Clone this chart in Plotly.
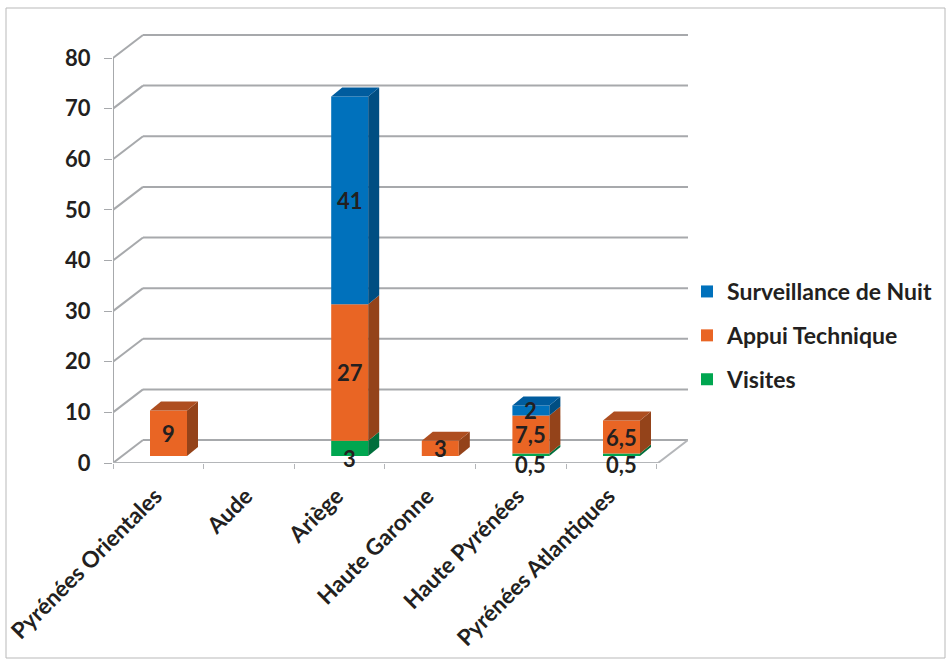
import plotly.graph_objects as go

categories = ["Pyrénées Orientales", "Aude", "Ariège", "Haute Garonne", "Haute Pyrénées", "Pyrénées Atlantiques"]
visites = [0, 0, 3, 0, 0.5, 0.5]
appui = [9, 0, 27, 3, 7.5, 6.5]
surveillance = [0, 0, 41, 0, 2, 0]
y_ticks = [0, 10, 20, 30, 40, 50, 60, 70, 80]

W, H = 947, 660
PL, PR, PT, PB = 113, 688, 25, 463          # plot rectangle in pixels
PX_CAT, PX_UNIT = 90.6, 5.0625              # pixels per category / per value unit
X0 = 168.5                                  # pixel centre of first bar
XMIN = (PL - X0) / PX_CAT
XMAX = (PR - X0) / PX_CAT
YMAX = (PB - PT) / PX_UNIT
DX, DY = 30 / PX_CAT, 23 / PX_UNIT          # floor depth
BW = 37 / PX_CAT                            # bar width
BDX, BDY = 11 / PX_CAT, 9 / PX_UNIT         # bar depth
FLOOR = 7 / PX_UNIT                         # bar base above the front axis
GRID = "#A7A9AC"
INK = "#231F20"
FONT = "Lato"

series = [
    ("Visites", visites, "#00A650", "#006F3C", "#00753F", 10, 3),
    ("Appui Technique", appui, "#E96524", "#94431A", "#AE4E20", 0, 2),
    ("Surveillance de Nuit", surveillance, "#0071BC", "#004E82", "#005C9E", 0, 1),
]

x_idx = list(range(len(categories)))
fig = go.Figure()
shapes = []
annotations = []


def line(x0, y0, x1, y1, color=GRID, width=2):
    shapes.append(dict(type="line", x0=x0, y0=y0, x1=x1, y1=y1, xref="x", yref="y",
                       layer="below", line=dict(color=color, width=width)))


for t in y_ticks:
    line(XMIN, t, XMIN + DX, t + DY)
    line(XMIN + DX, t + DY, XMAX, t + DY)
line(XMIN, 0, XMIN, y_ticks[-1])
line(XMIN, 0, XMAX - DX, 0, "#B4B6B9")
line(XMAX - DX, 0, XMAX, DY, "#B4B6B9")

# outer frame
fx = lambda p: (p - PL) / (PR - PL)
fy = lambda p: (PB - p) / (PB - PT)
shapes.append(dict(type="rect", xref="paper", yref="paper", x0=fx(6), x1=fx(945), y0=fy(658), y1=fy(8),
                   layer="below", line=dict(color="#B9B9B9", width=1)))

cum = [FLOOR] * len(categories)
for name, vals, col, side, top, shift, rank in series:
    base = list(cum)
    fig.add_trace(go.Bar(x=x_idx, y=vals, base=base, width=BW, name=name, marker=dict(color=col, line=dict(width=0)),
                         legendgroup=name, legendrank=rank, hoverinfo="skip"))
    for i, v in enumerate(vals):
        if v == 0:
            continue
        xr = i + BW / 2
        xl = i - BW / 2
        b, t = base[i], base[i] + v
        fig.add_trace(go.Scatter(x=[xr, xr + BDX, xr + BDX, xr, xr], y=[b, b + BDY, t + BDY, t, b], mode="lines",
                                 fill="toself", fillcolor=side, line=dict(width=0), showlegend=False,
                                 hoverinfo="skip"))
        if abs(sum(s[1][i] for s in series) - (t - FLOOR)) < 1e-9:
            fig.add_trace(go.Scatter(x=[xl, xr, xr + BDX, xl + BDX, xl], y=[t, t, t + BDY, t + BDY, t], mode="lines",
                                     fill="toself", fillcolor=top, line=dict(width=0), showlegend=False,
                                     hoverinfo="skip"))
        annotations.append(dict(x=i, y=b + v / 2, text=str(v).replace(".", ","), showarrow=False, yshift=-shift,
                                font=dict(family=FONT, size=22, color=INK, weight="bold")))
        cum[i] = t

fig.update_layout(
    width=W, height=H, autosize=False,
    margin=dict(l=PL, r=W - PR, t=PT, b=H - PB, pad=0, autoexpand=False),
    paper_bgcolor="white", plot_bgcolor="white",
    barmode="overlay",
    shapes=shapes, annotations=annotations,
    showlegend=True,
    legend=dict(xref="container", yref="container", x=687 / W, y=1 - 270 / H, xanchor="left", yanchor="top",
                traceorder="grouped", tracegroupgap=11, itemclick=False, itemdoubleclick=False,
                font=dict(family=FONT, size=23, color=INK, weight="bold"), bgcolor="rgba(0,0,0,0)"),
    xaxis=dict(range=[XMIN, XMAX], tickmode="array", tickvals=[i - DX / 2 + 2 / PX_CAT for i in x_idx],
               ticktext=categories, automargin=False,
               tickangle=-45, ticks="outside", ticklen=10, tickcolor="rgba(0,0,0,0)", showgrid=False, zeroline=False,
               showline=False,
               minor=dict(tickmode="array", tickvals=[XMIN + k for k in range(7)], ticks="outside", ticklen=5,
                          tickcolor="#B4B6B9", tickwidth=1, showgrid=False),
               tickfont=dict(family=FONT, size=22.5, color=INK, weight="bold")),
    yaxis=dict(range=[0, YMAX], tickmode="array", tickvals=y_ticks, ticks="outside", ticklen=8, tickcolor=GRID,
               automargin=False, ticklabelstandoff=9,
               tickwidth=1, showgrid=False, zeroline=False, showline=False,
               tickfont=dict(family=FONT, size=22, color=INK, weight="bold")),
)

fig.write_html("out.html", config={"displayModeBar": False},
               post_script="document.body.style.margin='0';document.body.style.overflow='hidden';")
